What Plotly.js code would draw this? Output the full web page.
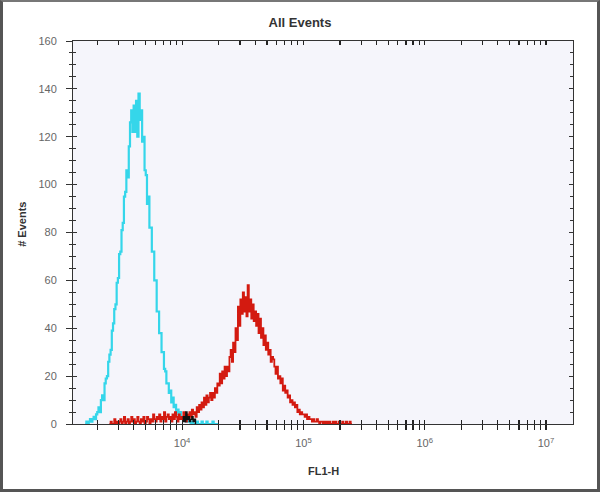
<!DOCTYPE html>
<html>
<head>
<meta charset="utf-8">
<script src="https://cdn.plot.ly/plotly-3.0.1.min.js"></script>
<style>
html,body{margin:0;padding:0;background:#fff;}
#wrap{position:relative;width:600px;height:492px;}
#chart{width:600px;height:492px;}
#frame{position:absolute;left:0;top:0;width:600px;height:492px;box-sizing:border-box;border:3px solid #555;border-top:2px solid #777;pointer-events:none;}
</style>
</head>
<body>
<div id="wrap"><div id="chart"></div><div id="frame"></div></div>
<script>
// Histogram channels: log10(FL1-H) bins of width binStep (x axis is drawn in log10 units)
const binStep = 0.01;

// Cyan histogram (control), first bin at log10 = 3.20
const cyanStartLog = 3.20;
const cyanCounts = [
  0,1,0,1,2,1,2,3,2,4,
  5,7,5,10,12,10,17,19,20,26,
  29,31,39,42,48,50,59,61,71,72,
  81,84,95,97,106,103,116,126,131,122,
  133,122,135,120,138,127,131,118,120,106,
  104,92,95,82,82,72,72,60,60,47,
  47,38,38,30,30,23,22,17,17,13,
  14,9,11,7,8,5,6,4,5,3,
  3,2,3,1,2,1,1,0,1,0,
  0,0,1,0,0,0,1,0,0,0,
  1,0,0,0,0,1,0,0,0,0,0
];

// Red histogram (antibody), first bin at log10 = 3.40
const redStartLog = 3.40;
const redCounts = [
  0,1,0,0,2,0,1,0,1,2,
  0,1,3,0,1,2,0,1,3,1,
  2,0,1,3,1,0,2,1,3,0,
  1,3,2,0,2,1,4,2,1,3,
  2,4,1,3,2,5,1,3,4,2,
  3,1,4,2,5,3,1,4,2,3,
  2,5,3,1,4,2,5,3,6,4,
  5,3,7,5,8,6,9,7,11,8,
  12,9,11,13,10,13,11,15,13,17,
  16,21,17,22,19,24,20,24,22,28,
  31,26,34,30,40,35,49,41,52,46,
  55,47,53,45,58,47,52,44,50,43,
  47,41,46,38,44,36,40,33,37,31,
  34,29,31,26,28,27,24,21,24,19,
  20,17,19,14,16,13,14,11,12,9,
  10,8,9,7,8,5,6,4,5,4,
  4,3,4,2,3,2,2,1,2,1,
  1,2,1,0,1,1,0,1,0,1,
  0,1,0,0,1,0,1,0,0,1,
  0,0,1,0,0,1,0,0,1,0,
  0
];

// Black histogram (small), first bin at log10 = 4.00
const blackStartLog = 4.00;
const blackCounts = [1,3,1,5,2,3,1,2,3,1,2,0];

// Axis ticks
const xDecades = [3, 4, 5, 6, 7];
const xLabelledDecades = [4, 5, 6, 7];
const xTickDigits = [1, 2, 3, 4, 5, 6, 7, 8, 9];
const yTickVals = [0, 20, 40, 60, 80, 100, 120, 140, 160];

function binsLog(startLog, n) {
  const xs = [];
  for (let i = 0; i < n; i++) xs.push(startLog + i * binStep);
  return xs;
}
const xAllTickVals = [], xAllTickText = [];
xDecades.forEach(d => xTickDigits.forEach(k => {
  xAllTickVals.push(d + Math.log10(k));
  xAllTickText.push(k === 1 && xLabelledDecades.includes(d) ? '10<sup>' + d + '</sup>' : '');
}));

const traces = [
  {x: binsLog(cyanStartLog, cyanCounts.length), y: cyanCounts, type: 'scatter', mode: 'lines',
   line: {color: '#35d6ea', width: 2.2, shape: 'hv'}, hoverinfo: 'skip'},
  {x: binsLog(redStartLog, redCounts.length), y: redCounts, type: 'scatter', mode: 'lines',
   line: {color: '#d31a10', width: 1.8, shape: 'hv'}, hoverinfo: 'skip'},
  {x: binsLog(blackStartLog, blackCounts.length), y: blackCounts, type: 'scatter', mode: 'lines',
   line: {color: '#111111', width: 1.4, shape: 'hv'}, hoverinfo: 'skip'},
  {x: [], y: [], xaxis: 'x2', yaxis: 'y2', type: 'scatter', mode: 'lines', hoverinfo: 'skip'}
];

const xr = [3.10, 7.223];
const yr = [0, 160];
const tickFont = {family: 'Liberation Sans, Arial, sans-serif', size: 11, color: '#666'};

const layout = {
  width: 600, height: 492,
  margin: {l: 73, r: 27, t: 41, b: 68},
  paper_bgcolor: '#ffffff',
  plot_bgcolor: '#f5f5fb',
  showlegend: false,
  title: {text: '<b>All Events</b>', x: 0.5, xanchor: 'center', xref: 'container',
          y: 0.955, yanchor: 'middle', yref: 'container',
          font: {family: 'Liberation Sans, Arial, sans-serif', size: 13, color: '#333'}},
  xaxis: {range: xr, tickmode: 'array', tickvals: xAllTickVals, ticktext: xAllTickText,
          ticks: 'outside', ticklen: 5, tickcolor: '#222', tickwidth: 1.2,
          showline: true, linecolor: '#333', linewidth: 1, mirror: true,
          showgrid: false, zeroline: false, tickfont: tickFont, ticklabelstandoff: 4,
          fixedrange: true},
  yaxis: {range: yr, tickvals: yTickVals, ticks: 'outside', ticklen: 6, tickcolor: '#333',
          minor: {ticks: 'outside', ticklen: 3, dtick: 5, tickcolor: '#333', showgrid: false},
          showline: true, linecolor: '#333', linewidth: 1, mirror: true,
          showgrid: false, zeroline: false, tickfont: tickFont, ticklabelstandoff: 7,
          fixedrange: true},
  xaxis2: {range: xr, overlaying: 'x', anchor: 'y2', tickmode: 'array', tickvals: xAllTickVals,
           ticks: 'inside', ticklen: 4, tickcolor: '#222', tickwidth: 1.2, mirror: 'ticks',
           showticklabels: false, showline: false, showgrid: false, zeroline: false, fixedrange: true},
  yaxis2: {range: yr, overlaying: 'y', anchor: 'x2', tickvals: yTickVals,
           ticks: 'inside', ticklen: 4, tickcolor: '#333', mirror: 'ticks',
           minor: {ticks: 'inside', ticklen: 3, dtick: 5, tickcolor: '#333', showgrid: false},
           showticklabels: false, showline: false, showgrid: false, zeroline: false, fixedrange: true},
  annotations: [
    {text: '<b># Events</b>', xref: 'paper', yref: 'paper', x: -0.102, y: 0.52,
     xanchor: 'center', yanchor: 'middle', textangle: -90, showarrow: false,
     font: {family: 'Liberation Sans, Arial, sans-serif', size: 11, color: '#333'}},
    {text: '<b>FL1-H</b>', xref: 'paper', yref: 'paper', x: 0.5, y: -0.123,
     xanchor: 'center', yanchor: 'middle', showarrow: false,
     font: {family: 'Liberation Sans, Arial, sans-serif', size: 11, color: '#333'}}
  ]
};

Plotly.newPlot('chart', traces, layout, {staticPlot: true, displayModeBar: false});
</script>
</body>
</html>
